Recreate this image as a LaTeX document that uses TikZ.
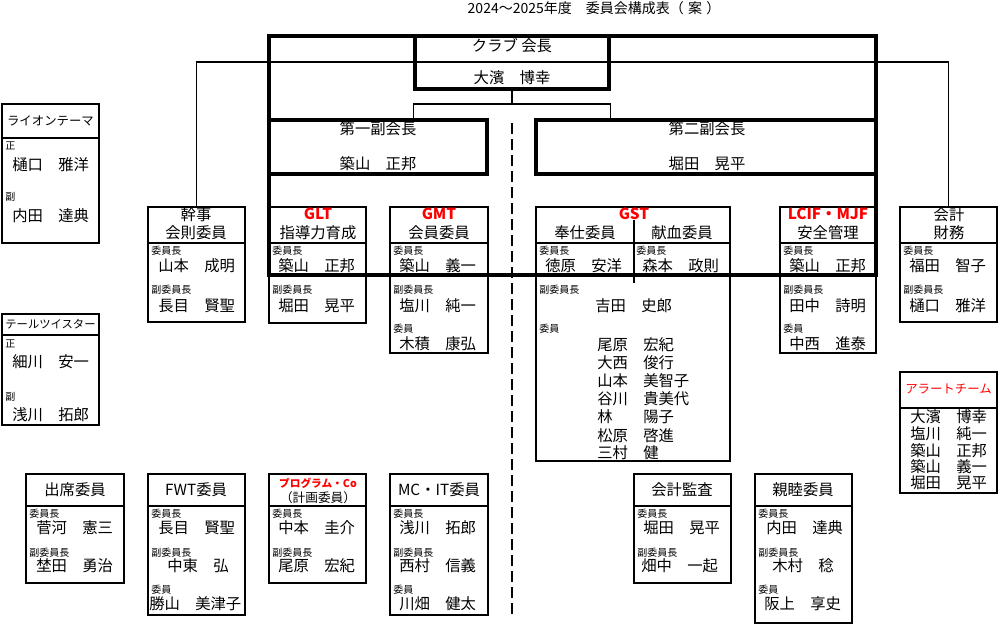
\documentclass[tikz,border=0pt]{standalone}
\usepackage{fontspec}
\setmainfont{Noto Sans CJK JP}
\usetikzlibrary{fit}

\begin{document}
\begin{tikzpicture}[x=0.75pt, y=-0.75pt,
    box/.style={draw, line width=1.3pt, inner sep=0pt},
    bigbox/.style={draw, line width=2.3pt, inner sep=0pt},
    frame/.style={line width=2.3pt},
    link/.style={line width=1.1pt},
    divider/.style={line width=1.3pt},
    head/.style={font=\fontsize{11.5}{12}\selectfont, inner sep=0pt},
    redtag/.style={head, text=red, font=\fontsize{11.5}{12}\selectfont\bfseries},
    role/.style={font=\fontsize{7.5}{8}\selectfont, anchor=west, inner sep=0pt},
    person/.style={font=\fontsize{11.5}{12}\selectfont, anchor=west, inner sep=0pt},
    cutline/.style={line width=2.2pt, dash pattern=on 8pt off 4pt}
]
\useasboundingbox (0,0) rectangle (1000,626);

% Title
\node[font=\fontsize{10.5}{11}\selectfont, inner sep=0pt] (title) at (594,8) {2024～2025年度　委員会構成表（\hspace{0.3em}案\hspace{0.3em}）};

% Officers
\node[bigbox, fit={(415,36) (609,89)}] (pres) {};
\node[head] (pres-h) at (512,46) {クラブ 会長};
\node[head] (pres-n) at (512,78) {大濱　博幸};
\node[bigbox, fit={(269,120) (487,174)}] (vp1) {};
\node[head] (vp1-h) at (378,129) {第一副会長};
\node[head] (vp1-n) at (378,164) {築山　正邦};
\node[bigbox, fit={(536,120) (876,174)}] (vp2) {};
\node[head] (vp2-h) at (707,129) {第二副会長};
\node[head] (vp2-n) at (707,164) {堀田　晃平};

% Frame round the board
\coordinate (frameNW) at (269,36);
\coordinate (frameNE) at (876,36);
\coordinate (frameSW) at (269,275);
\coordinate (frameSE) at (876,275);
\draw[frame] (frameSW) -- (frameNW) -- (frameNE) -- (frameSE) -- cycle;

% Committees, upper row
\node[box, fit={(148,207) (245,322)}] (kanji) {};
\draw[divider] (kanji.west |- 0,243) -- (kanji.east |- 0,243);
\node[head] (kanji-h1) at (196,215) {幹事};
\node[head] (kanji-h2) at (196,233) {会則委員};
\node[role] (kanji-r1) at (151,251) {委員長};
\node[person] (kanji-p1) at (158,266) {山本　成明};
\node[role] (kanji-r2) at (151,290) {副委員長};
\node[person] (kanji-p2) at (158,306) {長目　賢聖};

\node[box, fit={(269,207) (366,323)}] (glt) {};
\draw[divider] (glt.west |- 0,243) -- (glt.east |- 0,243);
\node[redtag] (glt-h1) at (318,214) {GLT};
\node[head] (glt-h2) at (318,233) {指導力育成};
\node[role] (glt-r1) at (272,251) {委員長};
\node[person] (glt-p1) at (278,266) {築山　正邦};
\node[role] (glt-r2) at (272,290) {副委員長};
\node[person] (glt-p2) at (278,306) {堀田　晃平};

\node[box, fit={(390,207) (488,353)}] (gmt) {};
\draw[divider] (gmt.west |- 0,243) -- (gmt.east |- 0,243);
\node[redtag] (gmt-h1) at (439,214) {GMT};
\node[head] (gmt-h2) at (439,233) {会員委員};
\node[role] (gmt-r1) at (393,251) {委員長};
\node[person] (gmt-p1) at (399,266) {築山　義一};
\node[role] (gmt-r2) at (393,290) {副委員長};
\node[person] (gmt-p2) at (399,306) {塩川　純一};
\node[role] (gmt-r3) at (393,329) {委員};
\node[person] (gmt-p3) at (399,344) {木積　康弘};

\node[box, fit={(536,207) (730,461)}] (gst) {};
\draw[divider] (gst.west |- 0,243) -- (gst.east |- 0,243);
\coordinate (gstsplitA) at (634,220);
\coordinate (gstsplitB) at (634,283);
\draw[divider] (gstsplitA) -- (gstsplitB);
\node[redtag] (gst-h1) at (634,214) {GST};
\node[head] (gst-h2) at (585,233) {奉仕委員};
\node[head] (gst-h3) at (682,233) {献血委員};
\node[role] (gst-r1) at (539,251) {委員長};
\node[person] (gst-p1) at (545,266) {徳原　安洋};
\node[role] (gst-r2) at (636,251) {委員長};
\node[person] (gst-p2) at (642,266) {森本　政則};
\node[role] (gst-r3) at (539,290) {副委員長};
\node[person] (gst-p3) at (595,306) {吉田　史郎};
\node[role] (gst-r4) at (539,329) {委員};
\node[person] (gst-m1) at (597,345) {尾原　宏紀};
\node[person] (gst-m2) at (597,363) {大西　俊行};
\node[person] (gst-m3) at (597,381) {山本　美智子};
\node[person] (gst-m4) at (597,399) {谷川　貴美代};
\node[person] (gst-m5) at (597,417) {林　　陽子};
\node[person] (gst-m6) at (597,436) {松原　啓進};
\node[person] (gst-m7) at (597,453) {三村　健};

\node[box, fit={(780,207) (876,353)}] (lcif) {};
\draw[divider] (lcif.west |- 0,243) -- (lcif.east |- 0,243);
\node[redtag] (lcif-h1) at (828,214) {LCIF・MJF};
\node[head] (lcif-h2) at (828,233) {安全管理};
\node[role] (lcif-r1) at (783,251) {委員長};
\node[person] (lcif-p1) at (789,266) {築山　正邦};
\node[role] (lcif-r2) at (783,290) {副委員長};
\node[person] (lcif-p2) at (789,306) {田中　詩明};
\node[role] (lcif-r3) at (783,329) {委員};
\node[person] (lcif-p3) at (789,344) {中西　進泰};

\node[box, fit={(900,207) (997,322)}] (kaikei) {};
\draw[divider] (kaikei.west |- 0,243) -- (kaikei.east |- 0,243);
\node[head] (kaikei-h1) at (949,215) {会計};
\node[head] (kaikei-h2) at (949,233) {財務};
\node[role] (kaikei-r1) at (903,251) {委員長};
\node[person] (kaikei-p1) at (909,266) {福田　智子};
\node[role] (kaikei-r2) at (903,290) {副委員長};
\node[person] (kaikei-p2) at (909,306) {樋口　雅洋};

% Connectors
\coordinate (bus) at (512,62);
\draw[link] (kanji.north) |- (bus) -| (kaikei.north);
\coordinate (split) at (512,104);
\draw[link] (pres.south) -- (split);
\draw[link] (pres.south west |- split) -- (pres.south east |- split);
\draw[link] (pres.south west |- split) -- (pres.south west |- vp1.north);
\draw[link] (pres.south east |- split) -- (pres.south east |- vp2.north);
\coordinate (cuttop) at (512,123);
\coordinate (cutbot) at (512,615);
\draw[cutline] (cuttop) -- (cutbot);

% Side boxes
\node[box, fit={(2,104) (99,243)}] (lion) {};
\draw[divider] (lion.west |- 0,138) -- (lion.east |- 0,138);
\node[head, font=\fontsize{9.3}{10}\selectfont] (lion-h) at (50.5,121) {ライオンテーマ};
\node[role] (lion-r1) at (5,146) {正};
\node[person] (lion-p1) at (12,165) {樋口　雅洋};
\node[role] (lion-r2) at (5,197) {副};
\node[person] (lion-p2) at (12,216) {内田　達典};

\node[box, fit={(2,314) (99,425)}] (tail) {};
\draw[divider] (tail.west |- 0,335) -- (tail.east |- 0,335);
\node[head, font=\fontsize{8.5}{9}\selectfont] (tail-h) at (50.5,324) {テールツイスター};
\node[role] (tail-r1) at (5,344) {正};
\node[person] (tail-p1) at (12,362) {細川　安一};
\node[role] (tail-r2) at (5,397) {副};
\node[person] (tail-p2) at (12,415) {浅川　拓郎};

\node[box, fit={(900,372) (997,493)}] (alert) {};
\draw[divider] (alert.west |- 0,408) -- (alert.east |- 0,408);
\node[head, text=red, font=\fontsize{9.3}{10}\selectfont] (alert-h) at (948.5,389) {アラートチーム};
\node[person] (alert-p1) at (910,417) {大濱　博幸};
\node[person] (alert-p2) at (910,434) {塩川　純一};
\node[person] (alert-p3) at (910,451) {築山　正邦};
\node[person] (alert-p4) at (910,467) {築山　義一};
\node[person] (alert-p5) at (910,483) {堀田　晃平};

% Committees, lower row
\node[box, fit={(26,474) (124,583)}] (shuseki) {};
\draw[divider] (shuseki.west |- 0,506) -- (shuseki.east |- 0,506);
\node[head] (shuseki-h) at (75,490) {出席委員};
\node[role] (shuseki-r1) at (29,514) {委員長};
\node[person] (shuseki-p1) at (36,528) {菅河　憲三};
\node[role] (shuseki-r2) at (29,553) {副委員長};
\node[person] (shuseki-p2) at (36,566) {埜田　勇治};

\node[box, fit={(148,474) (245,615)}] (fwt) {};
\draw[divider] (fwt.west |- 0,506) -- (fwt.east |- 0,506);
\node[head] (fwt-h) at (196,490) {FWT委員};
\node[role] (fwt-r1) at (151,514) {委員長};
\node[person] (fwt-p1) at (158,528) {長目　賢聖};
\node[role] (fwt-r2) at (151,553) {副委員長};
\node[person] (fwt-p2) at (167,566) {中東　弘};
\node[role] (fwt-r3) at (151,590) {委員};
\node[person] (fwt-p3) at (149,604) {勝山　美津子};

\node[box, fit={(269,474) (366,583)}] (prog) {};
\draw[divider] (prog.west |- 0,506) -- (prog.east |- 0,506);
\node[redtag, font=\fontsize{8}{9}\selectfont\bfseries] (prog-h1) at (318,483) {プログラム・Co};
\node[head, font=\fontsize{9.5}{10}\selectfont] (prog-h2) at (318,498) {（計画委員）};
\node[role] (prog-r1) at (272,514) {委員長};
\node[person] (prog-p1) at (278,528) {中本　圭介};
\node[role] (prog-r2) at (272,553) {副委員長};
\node[person] (prog-p2) at (278,566) {尾原　宏紀};

\node[box, fit={(390,474) (488,615)}] (mcit) {};
\draw[divider] (mcit.west |- 0,506) -- (mcit.east |- 0,506);
\node[head] (mcit-h) at (439,490) {MC・IT委員};
\node[role] (mcit-r1) at (393,514) {委員長};
\node[person] (mcit-p1) at (399,528) {浅川　拓郎};
\node[role] (mcit-r2) at (393,553) {副委員長};
\node[person] (mcit-p2) at (399,566) {西村　信義};
\node[role] (mcit-r3) at (393,590) {委員};
\node[person] (mcit-p3) at (399,604) {川畑　健太};

\node[box, fit={(634,474) (731,583)}] (kansa) {};
\draw[divider] (kansa.west |- 0,506) -- (kansa.east |- 0,506);
\node[head] (kansa-h) at (682,490) {会計監査};
\node[role] (kansa-r1) at (637,514) {委員長};
\node[person] (kansa-p1) at (643,528) {堀田　晃平};
\node[role] (kansa-r2) at (637,553) {副委員長};
\node[person] (kansa-p2) at (641,566) {畑中　一起};

\node[box, fit={(755,474) (852,623)}] (shinboku) {};
\draw[divider] (shinboku.west |- 0,506) -- (shinboku.east |- 0,506);
\node[head] (shinboku-h) at (803,490) {親睦委員};
\node[role] (shinboku-r1) at (758,514) {委員長};
\node[person] (shinboku-p1) at (766,528) {内田　達典};
\node[role] (shinboku-r2) at (758,553) {副委員長};
\node[person] (shinboku-p2) at (772,566) {木村　稔};
\node[role] (shinboku-r3) at (758,590) {委員};
\node[person] (shinboku-p3) at (764,604) {阪上　享史};

\end{tikzpicture}
\end{document}
